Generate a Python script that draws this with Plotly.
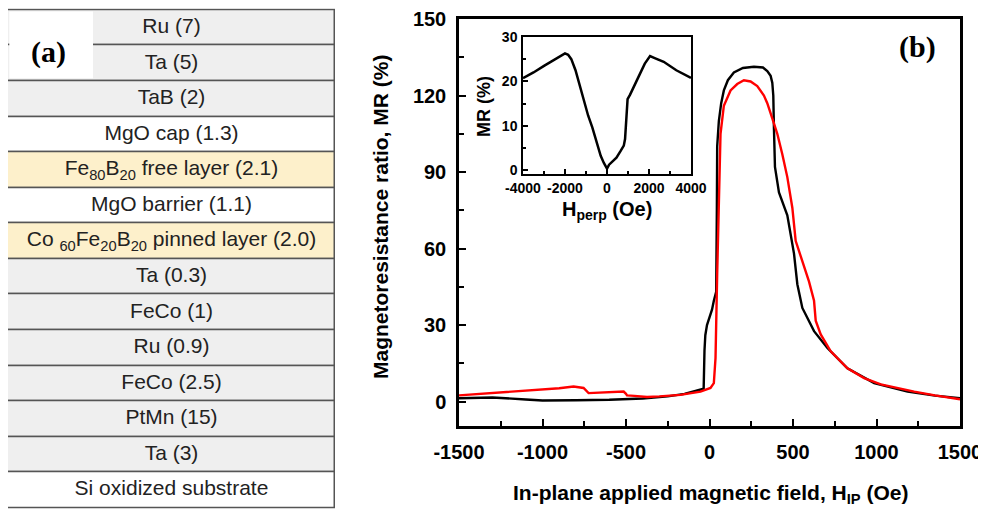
import plotly.graph_objects as go

# ---------------- data ----------------
layer_labels = [
    "Ru (7)", "Ta (5)", "TaB (2)", "MgO cap (1.3)",
    "Fe<sub>80</sub>B<sub>20</sub> free layer (2.1)",
    "MgO barrier (1.1)",
    "Co <sub>60</sub>Fe<sub>20</sub>B<sub>20</sub> pinned layer (2.0)",
    "Ta (0.3)", "FeCo (1)", "Ru (0.9)", "FeCo (2.5)", "PtMn (15)", "Ta (3)",
    "Si oxidized substrate",
]
layer_kind = ["metal", "metal", "metal", "oxide", "magnet", "oxide", "magnet",
              "metal", "metal", "metal", "metal", "metal", "metal", "oxide"]

black_h = [-1500, -1300, -1100, -1000, -800, -600, -400, -250, -150, -60,
           -35, -30, -25, -15, 0, 15, 26, 40, 44, 46, 56,
           70, 86, 110, 146, 200, 266, 320, 346, 366, 376,
           382, 386, 392, 416, 466, 506, 526, 556, 626, 706,
           826, 986, 1186, 1350, 1500]
black_mr = [1.3, 1.6, 0.8, 0.4, 0.5, 0.7, 1.2, 2.0, 3.0, 4.4,
            5.0, 20, 26, 30, 33, 36, 39.5, 43, 75, 100, 110,
            117, 122, 126, 129, 130.8, 131.3, 131, 129.6, 127.7, 125,
            120, 107, 92, 82, 73, 58, 46, 36.7, 27.6, 21,
            13, 7.2, 3.9, 2.3, 1.3]

red_h = [-1500, -1300, -1100, -900, -814, -770, -754, -724, -650, -574,
         -514, -500, -494, -450, -374, -300, -174, -54, 6, 26,
         36, 46, 56, 66, 86, 126, 166, 206, 246, 286,
         326, 346, 376, 406, 436, 466, 496, 516, 546, 596,
         626, 636, 666, 726, 826, 926, 1026, 1126, 1226, 1350, 1500]
red_mr = [2.4, 3.3, 4.2, 5.2, 5.9, 5.6, 5.3, 3.3, 3.6, 3.9,
          3.9, 3.0, 2.4, 2.2, 1.8, 2.0, 2.6, 3.9, 5.3, 7.2,
          17, 50, 82, 105, 116, 122, 124.5, 126, 125.5, 123.7,
          120, 117, 111, 105, 97, 88, 76, 63, 57, 47,
          39.5, 31.7, 26.3, 19.7, 13, 9.2, 6.7, 5.2, 3.9, 2.4, 0.9]

inset_h = [-4000, -3500, -3000, -2500, -2200, -2000, -1850, -1700, -1500, -1300,
           -1100, -900, -700, -500, -300, -150, 0, 100, 250, 450,
           650, 800, 860, 900, 940, 980, 1100, 1260, 1500, 1800,
           2050, 2300, 2700, 3300, 4000]
inset_mr = [20.7, 22, 23.5, 25, 25.8, 26.3, 26, 25, 22.5, 19,
            15.5, 12.3, 9.6, 6.6, 3.2, 1.6, 0.3, 1.2, 1.8, 2.8,
            4.3, 5.5, 7, 10, 14, 16, 17, 18.5, 21, 24,
            25.7, 25.2, 24.4, 22.5, 20.8]

main_xticks = [-1500, -1000, -500, 0, 500, 1000, 1500]
main_xticklabels = ["-1500", "-1000", "-500", "0", "500", "1000", "1500"]
main_yticks = [0, 30, 60, 90, 120, 150]
inset_xticks = [-4000, -2000, 0, 2000, 4000]
inset_xticklabels = ["-4000", "-2000", "0", "2000", "4000"]
inset_yticks = [0, 10, 20, 30]

# ---------------- styles ----------------
kind_color = {"metal": "#efefef", "oxide": "#ffffff", "magnet": "#fdf0cb"}
SANS = "Liberation Sans, Arial, sans-serif"
SERIF = "Liberation Serif, Times New Roman, serif"
OFF = 8            # page body margin offsets the figure by 8 px
W, H = 986 - OFF, 510 - OFF

def px_x(p):
    return (p - OFF) / W

def px_y(p):
    return 1 - (p - OFF) / H

fig = go.Figure()

# Panel (a): layer stack
fig.add_trace(go.Bar(
    x=[1] * len(layer_labels), y=list(range(len(layer_labels))), base=0,
    orientation="h", width=1,
    marker=dict(color=[kind_color[k] for k in layer_kind],
                line=dict(color="#555555", width=1.5)),
    xaxis="x3", yaxis="y3", hoverinfo="skip", showlegend=False,
))
fig.add_trace(go.Scatter(
    x=[0.5] * len(layer_labels), y=list(range(len(layer_labels))),
    mode="text", text=layer_labels,
    textfont=dict(family=SANS, size=21, color="#222222"),
    xaxis="x3", yaxis="y3", hoverinfo="skip", showlegend=False,
))

# Panel (b): main curves
fig.add_trace(go.Scatter(x=black_h, y=black_mr, mode="lines",
                         line=dict(color="black", width=2.4),
                         showlegend=False))
fig.add_trace(go.Scatter(x=red_h, y=red_mr, mode="lines",
                         line=dict(color="#ff0000", width=2.4),
                         showlegend=False))
# Inset
fig.add_trace(go.Scatter(x=inset_h, y=inset_mr, mode="lines",
                         line=dict(color="black", width=2.5),
                         xaxis="x2", yaxis="y2", showlegend=False))

axis_common = dict(showgrid=False, zeroline=False, showline=True,
                   linecolor="black", mirror=True, ticks="inside",
                   tickcolor="black", automargin=False)

fig.update_layout(
    width=W, height=H,
    margin=dict(l=0, r=0, t=0, b=0, pad=0, autoexpand=False),
    paper_bgcolor="white", plot_bgcolor="white", showlegend=False,
    bargap=0,
    xaxis=dict(domain=[px_x(459), px_x(960)], range=[-1500, 1500],
               tickvals=main_xticks, ticktext=main_xticklabels,
               ticklen=7, tickwidth=2, linewidth=2.5,
               tickfont=dict(family=SANS, size=20, color="black", weight="bold"),
               ticklabelstandoff=6, tickangle=0,
               minor=dict(ticks="inside", ticklen=5, tickwidth=2,
                          tickcolor="black", dtick=250, tick0=0),
               anchor="y", **axis_common),
    yaxis=dict(domain=[px_y(426), px_y(19)], range=[-9.6, 150],
               tickvals=main_yticks, ticklen=7, tickwidth=2, linewidth=2.5,
               tickfont=dict(family=SANS, size=20, color="black", weight="bold"),
               ticklabelstandoff=6,
               minor=dict(ticks="inside", ticklen=5, tickwidth=2,
                          tickcolor="black", dtick=15, tick0=0),
               anchor="x", **axis_common),
    xaxis2=dict(domain=[px_x(523), px_x(691)], range=[-4000, 4000],
                tickvals=inset_xticks, ticktext=inset_xticklabels,
                ticklen=5, tickwidth=1.5, linewidth=1.5,
                tickfont=dict(family=SANS, size=14, color="black", weight="bold"),
                ticklabelstandoff=0, tickangle=0,
                minor=dict(ticks="inside", ticklen=3, tickwidth=1.5,
                           tickcolor="black", dtick=1000, tick0=0),
                anchor="y2", **axis_common),
    yaxis2=dict(domain=[px_y(174), px_y(37)], range=[-0.9, 30],
                tickvals=inset_yticks, ticklen=5, tickwidth=1.5, linewidth=1.5,
                tickfont=dict(family=SANS, size=14, color="black", weight="bold"),
                ticklabelstandoff=1,
                minor=dict(ticks="inside", ticklen=3, tickwidth=1.5,
                           tickcolor="black", dtick=5, tick0=0),
                anchor="x2", **axis_common),
    xaxis3=dict(domain=[0, px_x(335) + 0.01 * 327 / W],
                range=[0, 1.01], visible=False, anchor="y3",
                fixedrange=True),
    yaxis3=dict(domain=[max(0.0, px_y(509.8)), min(1.0, px_y(8.2))],
                range=[13.55, -0.55], visible=False, anchor="x3",
                fixedrange=True),
)

# White box behind "(a)"
fig.add_shape(type="rect", xref="x3", yref="y3", x0=0.004, x1=0.26,
              y0=-0.46, y1=1.42, fillcolor="white", line=dict(width=0),
              layer="above")

annots = [
    dict(x=px_x(48), y=px_y(52), text="<b>(a)</b>",
         font=dict(family=SERIF, size=30, color="black")),
    dict(x=px_x(917), y=px_y(47), text="<b>(b)</b>",
         font=dict(family=SERIF, size=30, color="black")),
    dict(x=px_x(380), y=px_y(217), text="<b>Magnetoresistance ratio, MR (%)</b>",
         textangle=-90, font=dict(family=SANS, size=21, color="black")),
    dict(x=px_x(710), y=px_y(494),
         text="<b>In-plane applied magnetic field, H<sub>IP</sub> (Oe)</b>",
         font=dict(family=SANS, size=21, color="black")),
    dict(x=px_x(484), y=px_y(107), text="<b>MR (%)</b>", textangle=-90,
         font=dict(family=SANS, size=18, color="black")),
    dict(x=px_x(607), y=px_y(210), text="<b>H<sub>perp</sub> (Oe)</b>",
         font=dict(family=SANS, size=20, color="black")),
]
for a in annots:
    a.update(xref="paper", yref="paper", showarrow=False,
             xanchor="center", yanchor="middle", borderpad=0)
    fig.add_annotation(**a)

fig.write_html("out.html")
